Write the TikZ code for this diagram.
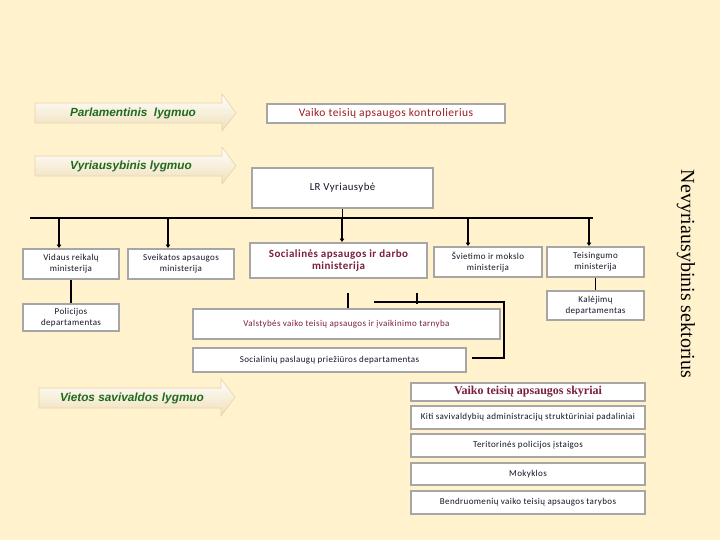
\documentclass[tikz,border=0pt]{standalone}
\usepackage{fontspec}
\setmainfont[LetterSpace=4]{Carlito}
\newfontfamily\arialf{Liberation Sans}
\newfontfamily\timesf{Liberation Serif}
\usetikzlibrary{arrows.meta}
\definecolor{bgc}{HTML}{FFF2CC}
\definecolor{boxgray}{HTML}{A6A6A6}
\definecolor{redt}{HTML}{9E1A22}
\definecolor{maroon}{HTML}{7A1F3D}
\definecolor{lvlgreen}{HTML}{1E6B1E}
\definecolor{txtdark}{HTML}{141428}
\definecolor{arrbot}{HTML}{F0DFB8}
\definecolor{arredge}{HTML}{E6D4AA}
\begin{document}
\begin{tikzpicture}[x=1pt,y=-1pt,
  box/.style={draw=boxgray, line width=2pt, fill=white, inner sep=0pt, align=center,
    font=\fontsize{9}{11}\selectfont, text=txtdark},
  lvl/.style={font=\arialf\bfseries\itshape\fontsize{11.8}{13}\selectfont, text=lvlgreen, inner sep=0pt},
  lvlarrow/.style={top color=white, bottom color=arrbot, draw=arredge, line width=0.6pt},
  conn/.style={line width=1.2pt, draw=black},
  downarr/.style={line width=1.8pt, draw=black, -{Triangle[length=3.5pt,width=4.5pt]}},
  thinarr/.style={line width=1.1pt, draw=black, -{Triangle[length=3.5pt,width=4.5pt]}}]
\fill[bgc] (0,0) rectangle (720,540);
\useasboundingbox (0,0) rectangle (720,540);

% level arrows
\path[lvlarrow] (35,103) -- (222,103) -- (222,94) -- (236,113) -- (222,131) -- (222,123) -- (35,123) -- cycle;
\node[lvl] (parl) at (133,113) {Parlamentinis\ \ lygmuo};
\path[lvlarrow] (35,156) -- (222,156) -- (222,147) -- (236,166) -- (222,184) -- (222,176) -- (35,176) -- cycle;
\node[lvl] (vyr) at (131,166) {Vyriausybinis lygmuo};
\path[lvlarrow] (39,388) -- (221,388) -- (221,379) -- (235,397) -- (221,416) -- (221,408) -- (39,408) -- cycle;
\node[lvl] (viet) at (132,398) {Vietos savivaldos lygmuo};

% boxes
\node[box, minimum width=238pt, minimum height=19pt, text=redt, font=\fontsize{11.5}{13}\selectfont] (kontr) at (386,113.5) {Vaiko teisių apsaugos kontrolierius};
\node[box, minimum width=181pt, minimum height=40pt, font=\fontsize{10.8}{12}\selectfont] (lr) at (342.5,188) {LR Vyriausybė};
\node[box, minimum width=96pt, minimum height=30pt] (vid) at (71,264) {Vidaus reikalų\\ministerija};
\node[box, minimum width=106pt, minimum height=30pt] (sve) at (181,264) {Sveikatos apsaugos\\ministerija};
\node[box, minimum width=177pt, minimum height=35pt, text=maroon, font=\bfseries\fontsize{11}{12.5}\selectfont] (soc) at (338.5,260.5) {Socialinės apsaugos ir darbo\\ministerija};
\node[box, minimum width=108pt, minimum height=30pt] (svi) at (488,262) {Švietimo ir mokslo\\ministerija};
\node[box, minimum width=97pt, minimum height=30pt] (tei) at (595.5,262) {Teisingumo\\ministerija};
\node[box, minimum width=97pt, minimum height=29pt] (kal) at (595.5,305.5) {Kalėjimų\\departamentas};
\node[box, minimum width=96pt, minimum height=27pt] (pol) at (71,317.5) {Policijos\\departamentas};
\node[box, minimum width=307pt, minimum height=30pt, text=maroon] (val) at (346.5,324) {Valstybės vaiko teisių apsaugos ir įvaikinimo tarnyba};
\node[box, minimum width=273pt, minimum height=24pt] (spd) at (329.5,360) {Socialinių paslaugų priežiūros departamentas};
\node[box, minimum width=234pt, minimum height=18pt, text=maroon, font=\timesf\bfseries\fontsize{12}{13}\selectfont] (skyr) at (528,392) {Vaiko teisių apsaugos skyriai};
\node[box, minimum width=234pt, minimum height=23pt] (kiti) at (528,417.5) {Kiti savivaldybių administracijų struktūriniai padaliniai};
\node[box, minimum width=234pt, minimum height=23pt] (ter) at (528,445.5) {Teritorinės policijos įstaigos};
\node[box, minimum width=234pt, minimum height=22pt] (mok) at (528,474) {Mokyklos};
\node[box, minimum width=234pt, minimum height=23pt] (ben) at (528,502.5) {Bendruomenių vaiko teisių apsaugos tarybos};

% side label
\node[rotate=-90, font=\timesf\fontsize{20}{22}\selectfont, inner sep=0pt] (nev) at (686,274) {Nevyriausybinis sektorius};

% bus
\coordinate (busL) at (30,218);
\coordinate (busR) at (593,218);
\draw[conn] (busL) -- (busR);
\draw[conn] (lr.south) -- (lr.south |- busL);
\coordinate (b1) at (59,218);
\coordinate (b2) at (168,218);
\coordinate (b3) at (342,218);
\coordinate (b4) at (468,218);
\coordinate (b5) at (589,218);
\draw[thinarr] (b1) -- (b1 |- vid.north);
\draw[downarr] (b2) -- (b2 |- sve.north);
\draw[downarr] (b3) -- (b3 |- soc.north);
\draw[downarr] (b4) -- (b4 |- svi.north);
\draw[downarr] (b5) -- (b5 |- tei.north);
\draw[conn] (vid.south) -- (pol.north);
\draw[conn] (tei.south) -- (kal.north);

% lower connectors
\coordinate (v1) at (348,293);
\draw[conn] (v1) -- (v1 |- val.north);
\coordinate (c1) at (374,302);
\coordinate (c2) at (504,302);
\coordinate (c3) at (504,358);
\coordinate (c4) at (472,358);
\draw[conn] (c1) -- (c2) -- (c3) -- (c4);
\coordinate (t1) at (417,293);
\coordinate (t2) at (417,304);
\draw[conn] (t1) -- (t2);
\end{tikzpicture}
\end{document}
